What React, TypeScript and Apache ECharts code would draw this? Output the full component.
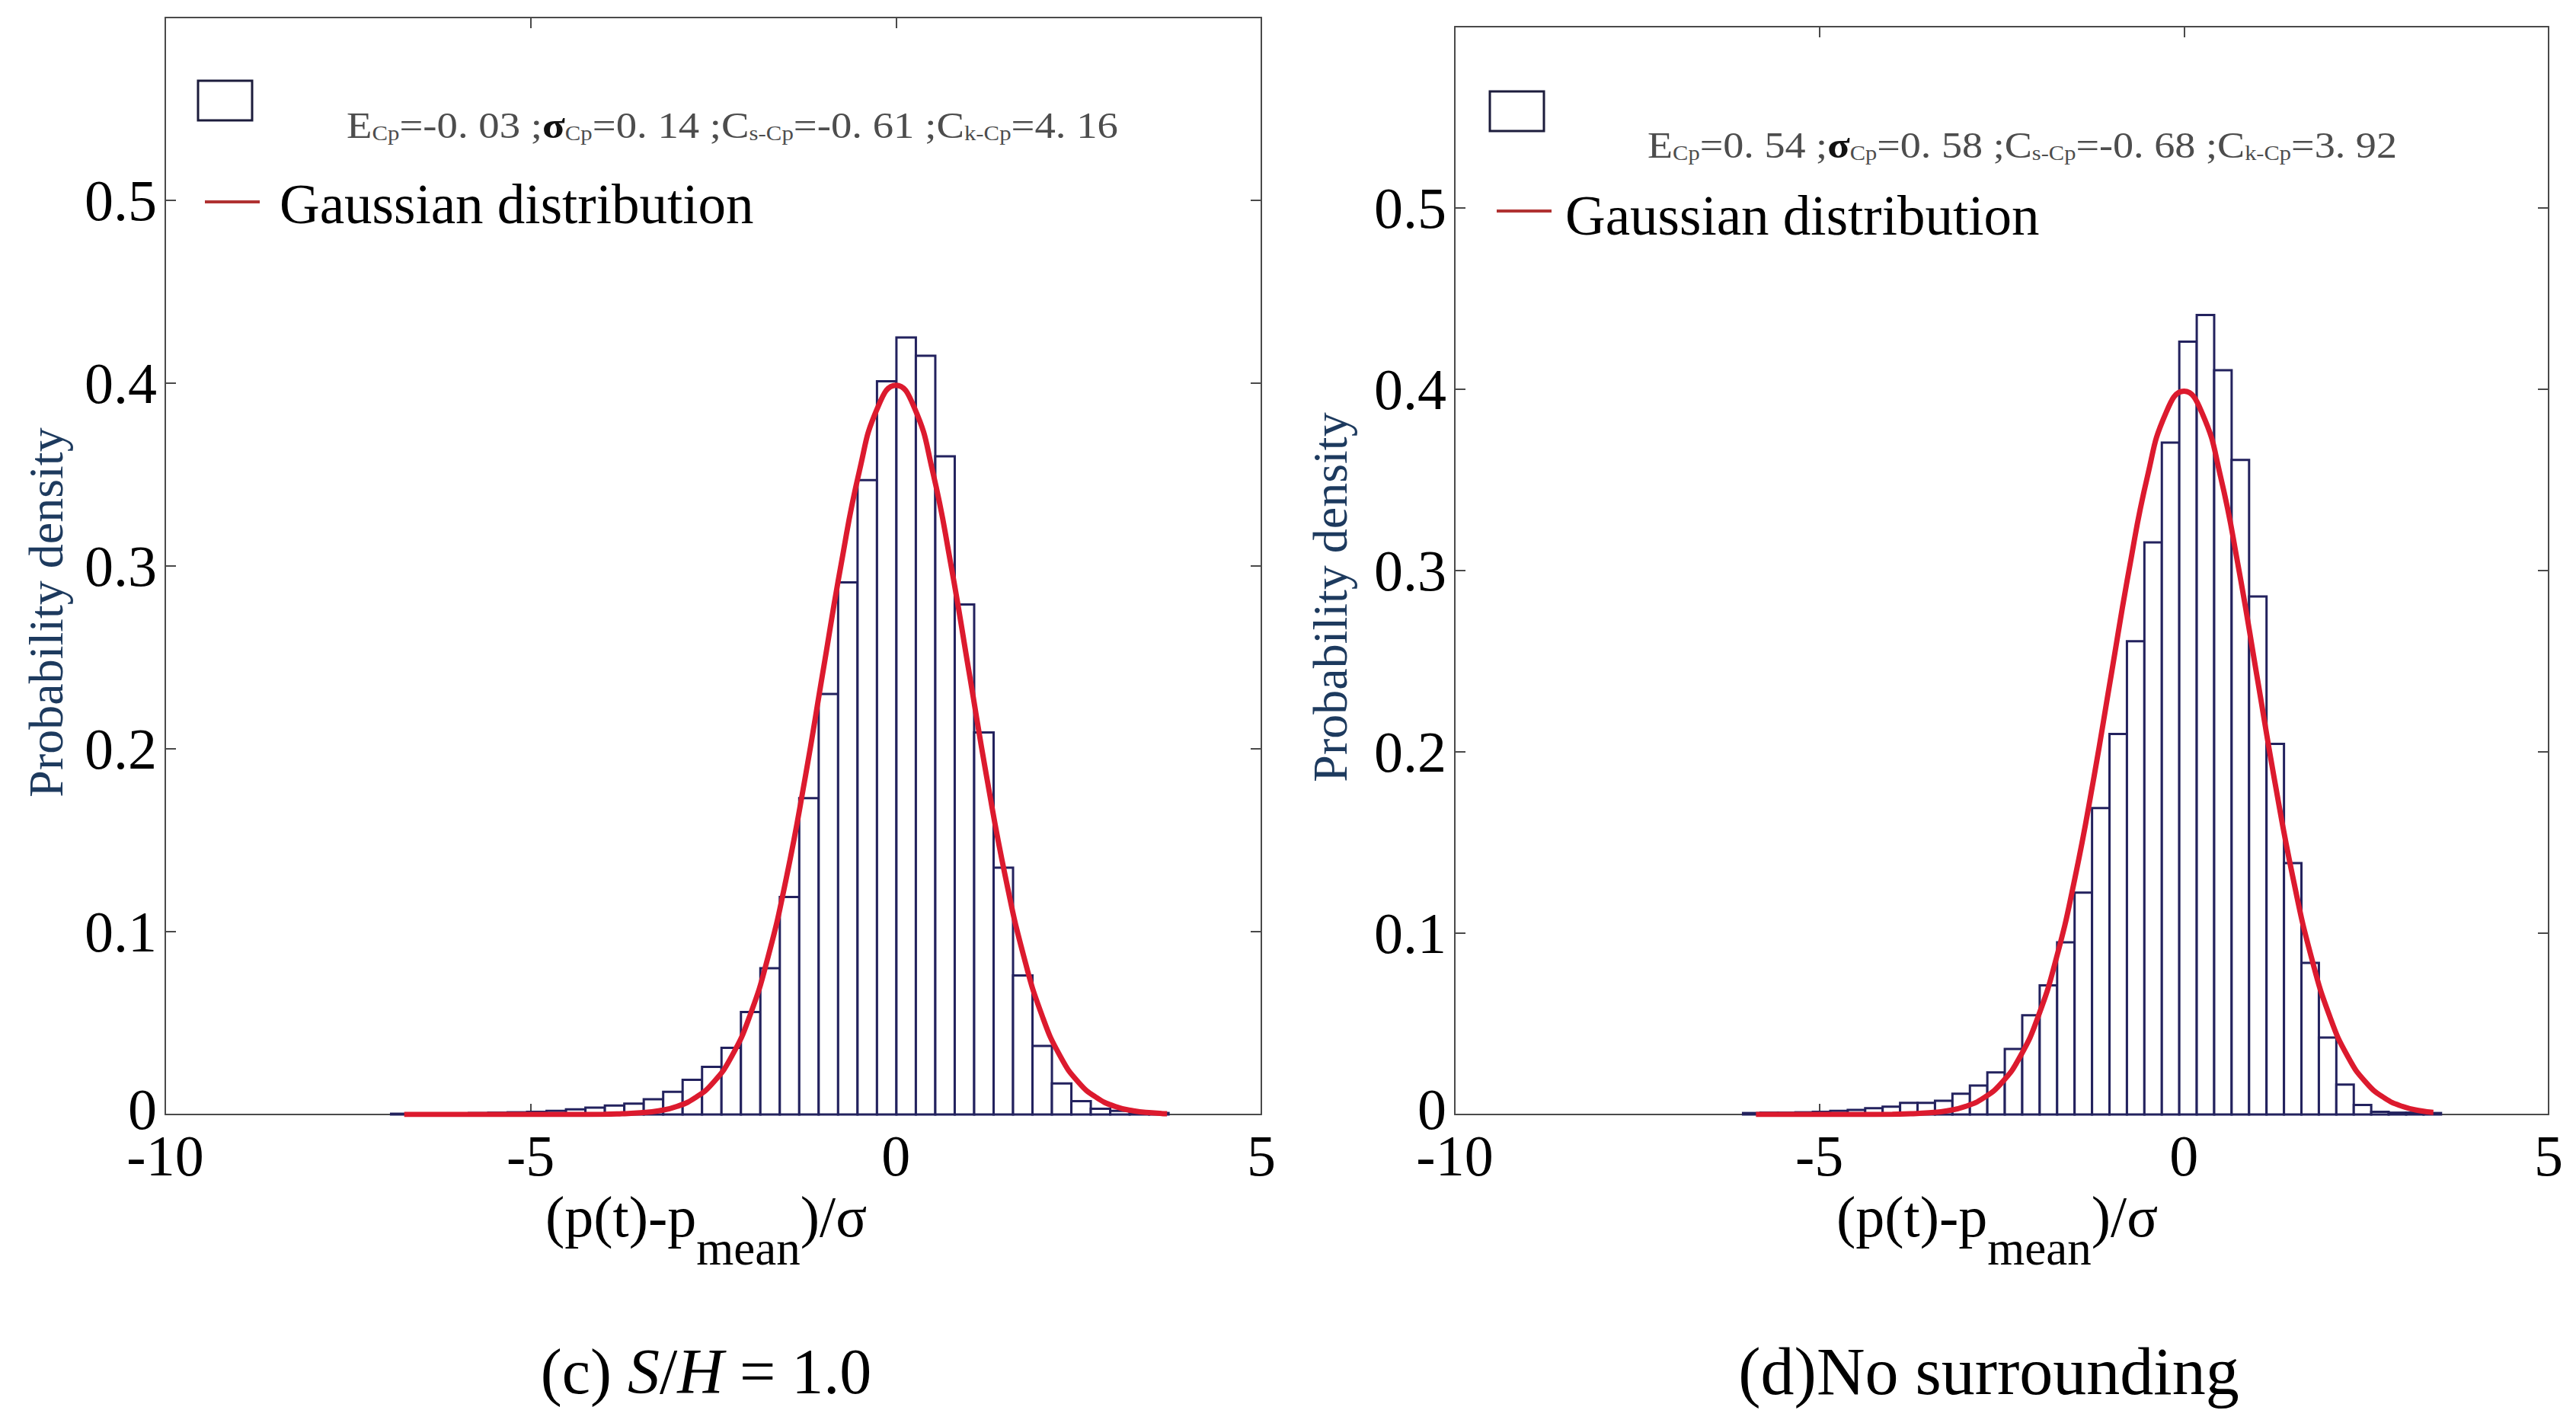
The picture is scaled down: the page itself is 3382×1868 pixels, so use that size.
import React, { useEffect, useRef } from "react";
import * as echarts from "echarts";

// ---------- data ----------
// (c) S/H = 1.0  -- histogram bins (uniform width), left edge of the first bin
const binStartC = -6.91;
const binWidthC = 0.266;
const densityC = [
  0.0004, 0.0004, 0.0005, 0.0006, 0.0008, 0.001, 0.0012, 0.0015, 0.002, 0.0028,
  0.0038, 0.0049, 0.0059, 0.0083, 0.0124, 0.019, 0.026, 0.0365, 0.056, 0.08,
  0.119, 0.173, 0.23, 0.291, 0.347, 0.401, 0.425, 0.415, 0.36, 0.279,
  0.209, 0.135, 0.076, 0.0375, 0.017, 0.0073, 0.0031, 0.002, 0.0012, 0.0008,
];
const gaussXC = [
  -6.73, -5, -4.5, -4, -3.75, -3.5, -3.25, -3, -2.75, -2.5, -2.25, -2, -1.75, -1.5,
  -1.25, -1, -0.75, -0.5, -0.25, 0, 0.25, 0.5, 0.75, 1, 1.25, 1.5, 1.75, 2, 2.25,
  2.5, 2.75, 3, 3.25, 3.5, 3.71,
];
const gaussYC = [
  0, 0, 0, 0.0001, 0.0004, 0.0009, 0.002, 0.0044, 0.0091, 0.0175, 0.0317, 0.054,
  0.0863, 0.1295, 0.1826, 0.242, 0.3011, 0.3521, 0.3867, 0.3989, 0.3867, 0.3521,
  0.3011, 0.242, 0.1826, 0.1295, 0.0863, 0.054, 0.0317, 0.0175, 0.0091, 0.0044,
  0.002, 0.0009, 0.0004,
];

// (d) No surrounding
const binStartD = -6.047;
const binWidthD = 0.2393;
const densityD = [
  0.0008, 0.001, 0.001, 0.0012, 0.0015, 0.002, 0.0025, 0.0035, 0.0043, 0.0064,
  0.0064, 0.0076, 0.0114, 0.016, 0.0232, 0.0361, 0.0547, 0.0712, 0.095, 0.1224,
  0.169, 0.2099, 0.261, 0.3155, 0.3706, 0.4263, 0.441, 0.4105, 0.361, 0.2857,
  0.2044, 0.1387, 0.0836, 0.0424, 0.0165, 0.0053, 0.0015, 0.001, 0.001, 0.0008,
];
const gaussXD = [
  -5.87, -5, -4.5, -4, -3.75, -3.5, -3.25, -3, -2.75, -2.5, -2.25, -2, -1.75, -1.5,
  -1.25, -1, -0.75, -0.5, -0.25, 0, 0.25, 0.5, 0.75, 1, 1.25, 1.5, 1.75, 2, 2.25,
  2.5, 2.75, 3, 3.25, 3.42,
];
const gaussYD = [
  0, 0, 0, 0.0001, 0.0004, 0.0009, 0.002, 0.0044, 0.0091, 0.0175, 0.0317, 0.054,
  0.0863, 0.1295, 0.1826, 0.242, 0.3011, 0.3521, 0.3867, 0.3989, 0.3867, 0.3521,
  0.3011, 0.242, 0.1826, 0.1295, 0.0863, 0.054, 0.0317, 0.0175, 0.0091, 0.0044,
  0.002, 0.0012,
];

const xMin = -10;
const xMax = 5;
const xInterval = 5;
const yMin = 0;
const yMax = 0.6;
const yInterval = 0.1;

const statsC = ["-0. 03", "0. 14", "-0. 61", "4. 16"];
const statsD = ["0. 54", "0. 58", "-0. 68", "3. 92"];
const legendText = "Gaussian distribution";
const yTitle = "Probability density";
const captionC = ["(c) ", "S", "/", "H", " = 1.0"];
const captionD = "(d)No surrounding";

// ---------- helpers ----------
const SERIF = '"Liberation Serif", "Times New Roman", serif';
let measureCtx: CanvasRenderingContext2D | null = null;
function measure(text: string, size: number, weight = "normal", style = "normal") {
  if (!measureCtx) measureCtx = document.createElement("canvas").getContext("2d");
  measureCtx!.font = `${style} ${weight} ${size}px ${SERIF}`;
  return measureCtx!.measureText(text).width;
}

type Part = { t: string; size: number; dy: number; fill?: string; weight?: string };

function seqText(x: number, y: number, parts: Part[], targetW?: number) {
  let cx = 0;
  const children: any[] = [];
  for (const p of parts) {
    children.push({
      type: "text",
      x: cx,
      y: p.dy,
      style: {
        text: p.t,
        fontFamily: SERIF,
        fontSize: p.size,
        fontWeight: p.weight || "normal",
        fill: p.fill || "#000",
        align: "left",
        verticalAlign: "middle",
        textAlign: "left",
        textVerticalAlign: "middle",
      },
    });
    cx += measure(p.t, p.size, p.weight || "normal");
  }
  return {
    type: "group",
    x,
    y,
    scaleX: targetW ? targetW / cx : 1,
    children,
  };
}

function statsParts(v: string[]): Part[] {
  const M = 48;
  const S = 27;
  const g = "#4d4d4d";
  return [
    { t: "E", size: M, dy: 0, fill: g },
    { t: "Cp", size: S, dy: 10, fill: g },
    { t: "=" + v[0] + " ;", size: M, dy: 0, fill: g },
    { t: "σ", size: M, dy: 0, fill: "#111", weight: "bold" },
    { t: "Cp", size: S, dy: 10, fill: g },
    { t: "=" + v[1] + " ;", size: M, dy: 0, fill: g },
    { t: "C", size: M, dy: 0, fill: g },
    { t: "s-Cp", size: S, dy: 10, fill: g },
    { t: "=" + v[2] + " ;", size: M, dy: 0, fill: g },
    { t: "C", size: M, dy: 0, fill: g },
    { t: "k-Cp", size: S, dy: 10, fill: g },
    { t: "=" + v[3], size: M, dy: 0, fill: g },
  ];
}

function xTitleParts(): Part[] {
  return [
    { t: "(p(t)-p", size: 76, dy: 0 },
    { t: "mean", size: 63, dy: 42 },
    { t: ")/σ", size: 76, dy: 0 },
  ];
}

function histData(start: number, width: number, dens: number[]) {
  return dens.map((h, i) => [start + i * width, start + (i + 1) * width, h]);
}

function gaussData(xs: number[], ys: number[]) {
  return xs.map((x, i) => [x, ys[i]]);
}

const FRAME = "#4a4a4a";
const BAR_STROKE = "#23225e";
const CURVE = "#dc1a2e";
const TICK_FONT = 76;

function axisPair(gridIndex: number) {
  const common = {
    type: "value",
    gridIndex,
    min: xMin,
    max: xMax,
    interval: xInterval,
    splitLine: { show: false },
    axisLine: { show: true, onZero: false, lineStyle: { color: FRAME, width: 2 } },
    axisTick: { show: true, inside: true, length: 14, lineStyle: { color: FRAME, width: 2 } },
  };
  return [
    {
      ...common,
      position: "bottom",
      axisLabel: {
        show: true,
        margin: 16,
        fontFamily: SERIF,
        fontSize: TICK_FONT,
        color: "#000",
      },
    },
    { ...common, position: "top", axisLabel: { show: false } },
  ];
}

function yAxisPair(gridIndex: number) {
  const common = {
    type: "value",
    gridIndex,
    min: yMin,
    max: yMax,
    interval: yInterval,
    splitLine: { show: false },
    axisLine: { show: true, onZero: false, lineStyle: { color: FRAME, width: 2 } },
    axisTick: { show: true, inside: true, length: 14, lineStyle: { color: FRAME, width: 2 } },
  };
  return [
    {
      ...common,
      position: "left",
      axisLabel: {
        show: true,
        margin: 11,
        fontFamily: SERIF,
        fontSize: TICK_FONT,
        color: "#000",
        formatter: (v: number) =>
          v > 0.55 ? "" : v === 0 ? "{z|0}" : String(+v.toFixed(1)),
        rich: {
          z: {
            fontFamily: SERIF,
            fontSize: TICK_FONT,
            color: "#000",
            lineHeight: 60,
            padding: [0, 0, 14, 0],
          },
        },
      },
    },
    { ...common, position: "right", axisLabel: { show: false } },
  ];
}

function histSeries(xAxisIndex: number, yAxisIndex: number, data: number[][]) {
  return {
    type: "custom",
    xAxisIndex,
    yAxisIndex,
    z: 2,
    data,
    encode: { x: [0, 1], y: 2 },
    renderItem: (_params: any, api: any) => {
      const x0 = api.value(0);
      const x1 = api.value(1);
      const h = api.value(2);
      const p0 = api.coord([x0, h]);
      const p1 = api.coord([x1, 0]);
      return {
        type: "rect",
        shape: { x: p0[0], y: p0[1], width: p1[0] - p0[0], height: p1[1] - p0[1] },
        style: { fill: "#ffffff", stroke: BAR_STROKE, lineWidth: 3 },
      };
    },
  };
}

function curveSeries(xAxisIndex: number, yAxisIndex: number, data: number[][]) {
  return {
    type: "line",
    xAxisIndex,
    yAxisIndex,
    z: 3,
    data,
    smooth: true,
    showSymbol: false,
    symbol: "none",
    lineStyle: { color: CURVE, width: 7 },
  };
}

function legendGraphics(boxX: number, boxY: number, lineX: number, lineY: number, textX: number, textY: number) {
  return [
    {
      type: "rect",
      shape: { x: boxX, y: boxY, width: 71, height: 52 },
      style: { fill: "#fff", stroke: "#1c1c3c", lineWidth: 3 },
    },
    {
      type: "line",
      shape: { x1: lineX, y1: lineY, x2: lineX + 72, y2: lineY },
      style: { stroke: "#b03232", lineWidth: 4 },
    },
    {
      type: "text",
      x: textX,
      y: textY,
      style: {
        text: legendText,
        fontFamily: SERIF,
        fontSize: 73,
        fill: "#000",
        align: "left",
        verticalAlign: "middle",
        textAlign: "left",
        textVerticalAlign: "middle",
      },
    },
  ];
}

function yTitleGraphic(x: number, y: number) {
  return {
    type: "text",
    x,
    y,
    rotation: Math.PI / 2,
    style: {
      text: yTitle,
      fontFamily: SERIF,
      fontSize: 64,
      fill: "#1d3a5e",
      align: "center",
      verticalAlign: "middle",
      textAlign: "center",
      textVerticalAlign: "middle",
    },
  };
}

export default function App() {
  const ref = useRef<HTMLDivElement>(null);

  useEffect(() => {
    if (!ref.current) return;
    const chart = echarts.init(ref.current, null, { renderer: "svg" });

    const graphics: any[] = [
      ...legendGraphics(260, 106, 269, 265, 367, 268),
      ...legendGraphics(1956, 120, 1965, 277, 2055, 283),
      seqText(455, 165, statsParts(statsC), 1013),
      seqText(2163, 191, statsParts(statsD), 984),
      seqText(716, 1597, xTitleParts()),
      seqText(2411, 1597, xTitleParts()),
      yTitleGraphic(60, 804),
      yTitleGraphic(1746, 784),
      {
        type: "text",
        x: 927,
        y: 1800,
        style: {
          text:
            "{n|" + captionC[0] + "}{i|" + captionC[1] + "}{n|" + captionC[2] + "}{i|" +
            captionC[3] + "}{n|" + captionC[4] + "}",
          align: "center",
          verticalAlign: "middle",
          textAlign: "center",
          textVerticalAlign: "middle",
          rich: {
            n: { fontFamily: SERIF, fontSize: 84, fill: "#000", color: "#000" },
            i: { fontFamily: SERIF, fontSize: 84, fontStyle: "italic", fill: "#000", color: "#000" },
          },
        },
      },
      {
        type: "text",
        x: 2611,
        y: 1800,
        style: {
          text: captionD,
          fontFamily: SERIF,
          fontSize: 88,
          fill: "#000",
          align: "center",
          verticalAlign: "middle",
          textAlign: "center",
          textVerticalAlign: "middle",
        },
      },
    ];

    chart.setOption({
      animation: false,
      backgroundColor: "#ffffff",
      grid: [
        { left: 217, top: 23, width: 1439, height: 1440, containLabel: false },
        { left: 1910, top: 35, width: 1436, height: 1428, containLabel: false },
      ],
      xAxis: [...axisPair(0), ...axisPair(1)],
      yAxis: [...yAxisPair(0), ...yAxisPair(1)],
      series: [
        histSeries(0, 0, histData(binStartC, binWidthC, densityC)),
        curveSeries(0, 0, gaussData(gaussXC, gaussYC)),
        histSeries(2, 2, histData(binStartD, binWidthD, densityD)),
        curveSeries(2, 2, gaussData(gaussXD, gaussYD)),
      ],
      graphic: graphics,
    });

    return () => chart.dispose();
  }, []);

  return (
    <div
      ref={ref}
      style={{ position: "fixed", left: 0, top: 0, width: 3382, height: 1868, background: "#fff" }}
    />
  );
}
